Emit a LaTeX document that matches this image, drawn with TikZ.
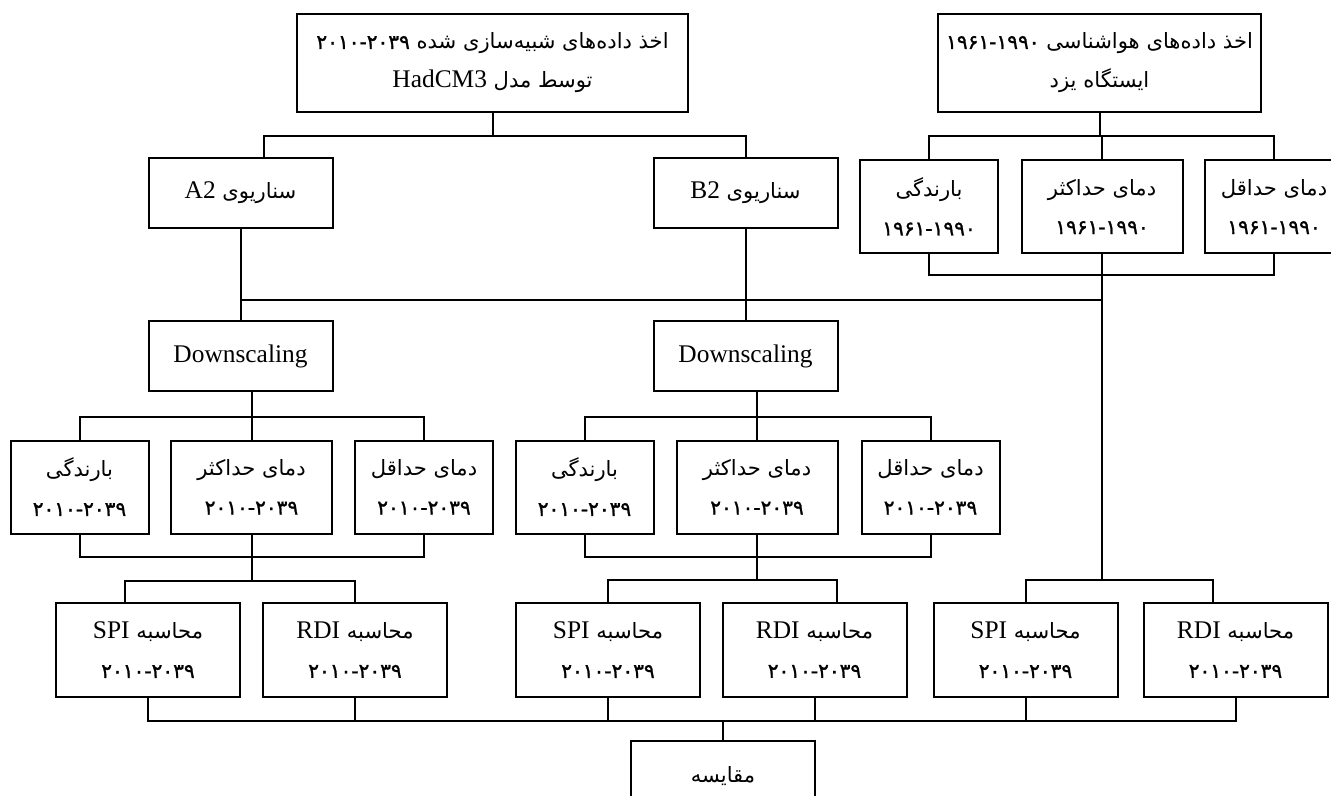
\documentclass[tikz,border=0pt]{standalone}
\usepackage{fontspec}
\setmainfont{Liberation Serif}
\newfontfamily\farsi[Script=Arabic,Scale=0.83]{DejaVu Sans}
\newfontfamily\farsiyr[Script=Arabic,Scale=0.79,FakeBold=1.3]{DejaVu Sans}
\TeXXeTstate=1
\newcommand{\fa}[1]{{\farsi\beginR #1\endR}}
\newcommand{\yrs}[1]{{\farsiyr #1}}
\newcommand{\ltn}[1]{{\rmfamily #1}}
\usetikzlibrary{calc}

\begin{document}
\begin{tikzpicture}[x=0.5pt,y=-0.5pt,line width=1pt,
  box/.style={draw,align=center,inner sep=0pt,font=\fontsize{12.7}{19.5}\selectfont},
  onebox/.style={box,minimum width=92pt,minimum height=35pt},
  twobox/.style={box,minimum width=92pt,minimum height=47pt},
  smallbox/.style={box,minimum width=69pt,minimum height=46.5pt},
  midbox/.style={box,minimum width=80.5pt,minimum height=46.5pt}]
\useasboundingbox (0,0) rectangle (1331,796);
% sources
\node[box,minimum width=195.5pt,minimum height=49pt] (sim) at (492.5,63)
  {\fa{اخذ داده‌های شبیه‌سازی شده \yrs{۲۰۱۰-۲۰۳۹}}\\ \fa{توسط مدل \ltn{HadCM3}}};
\node[box,minimum width=161.5pt,minimum height=49pt] (obs) at (1099.5,63)
  {\fa{اخذ داده‌های هواشناسی \yrs{۱۹۶۱-۱۹۹۰}}\\ \fa{ایستگاه یزد}};
% scenarios and station data
\node[onebox] (A2) at (240.5,193) {\fa{سناریوی \ltn{A2}}};
\node[onebox] (B2) at (745.5,193) {\fa{سناریوی \ltn{B2}}};
\node[smallbox] (st1) at (929,206.5) {\fa{بارندگی}\\ \yrs{۱۹۶۱-۱۹۹۰}};
\node[midbox] (st2) at (1102,206.5) {\fa{دمای حداکثر}\\ \yrs{۱۹۶۱-۱۹۹۰}};
\node[smallbox] (st3) at (1274,206.5) {\fa{دمای حداقل}\\ \yrs{۱۹۶۱-۱۹۹۰}};
\node[onebox] (dsA) at (240.5,356) {Downscaling};
\node[onebox] (dsB) at (745.5,356) {Downscaling};
% downscaled variables
\node[smallbox] (gA1) at (79.5,487) {\fa{بارندگی}\\ \yrs{۲۰۱۰-۲۰۳۹}};
\node[midbox] (gA2) at (251.5,487) {\fa{دمای حداکثر}\\ \yrs{۲۰۱۰-۲۰۳۹}};
\node[smallbox] (gA3) at (424,487) {\fa{دمای حداقل}\\ \yrs{۲۰۱۰-۲۰۳۹}};
\node[smallbox] (gB1) at (584.5,487) {\fa{بارندگی}\\ \yrs{۲۰۱۰-۲۰۳۹}};
\node[midbox] (gB2) at (757,487) {\fa{دمای حداکثر}\\ \yrs{۲۰۱۰-۲۰۳۹}};
\node[smallbox] (gB3) at (930.5,487) {\fa{دمای حداقل}\\ \yrs{۲۰۱۰-۲۰۳۹}};
% indices
\node[twobox] (spiA) at (148,650) {\fa{محاسبه \ltn{SPI}}\\ \yrs{۲۰۱۰-۲۰۳۹}};
\node[twobox] (rdiA) at (355,650) {\fa{محاسبه \ltn{RDI}}\\ \yrs{۲۰۱۰-۲۰۳۹}};
\node[twobox] (spiB) at (608,650) {\fa{محاسبه \ltn{SPI}}\\ \yrs{۲۰۱۰-۲۰۳۹}};
\node[twobox] (rdiB) at (814.5,650) {\fa{محاسبه \ltn{RDI}}\\ \yrs{۲۰۱۰-۲۰۳۹}};
\node[twobox] (spiS) at (1025.5,650) {\fa{محاسبه \ltn{SPI}}\\ \yrs{۲۰۱۰-۲۰۳۹}};
\node[twobox] (rdiS) at (1235.5,650) {\fa{محاسبه \ltn{RDI}}\\ \yrs{۲۰۱۰-۲۰۳۹}};
\node[onebox] (cmp) at (723,776) {\fa{مقایسه}};
% connectors
\draw (sim.south) -- (sim.south |- 0,136);
\draw ($(A2.north)+(23,0)$) |- (B2.north |- 0,136) -- (B2.north);
\draw (obs.south) -- (obs.south |- 0,136);
\draw (st1.north) |- (st3.north |- 0,136) -- (st3.north);
\draw (st2.north) -- (st2.north |- 0,136);
\draw (st1.south) |- (st3.south |- 0,275) -- (st3.south);
\draw (st2.south) -- (st2.south |- 0,581);
\draw (A2.south) -- (dsA.north);
\draw (B2.south) -- (dsB.north);
\draw (dsA.north |- 0,300) -- (st2.south |- 0,300);
\draw (gA2.north) -- (gA2.north |- dsA.south);
\draw (gB2.north) -- (gB2.north |- dsB.south);
\draw (gA1.north) |- (gA3.north |- 0,417) -- (gA3.north);
\draw (gB1.north) |- (gB3.north |- 0,417) -- (gB3.north);
\draw (gA1.south) |- (gA3.south |- 0,557) -- (gA3.south);
\draw (gB1.south) |- (gB3.south |- 0,557) -- (gB3.south);
\draw (gA2.south) -- (gA2.south |- 0,581);
\draw (gB2.south) -- (gB2.south |- 0,581);
\draw ($(spiA.north)+(-23,0)$) |- (rdiA.north |- 0,581) -- (rdiA.north);
\draw (spiB.north) |- ($(rdiB.north)+(22,-22)$) -- ($(rdiB.north)+(22,0)$);
\draw (spiS.north) |- ($(rdiS.north)+(-23,-22)$) -- ($(rdiS.north)+(-23,0)$);
\draw (spiA.south) |- (rdiS.south |- 0,721) -- (rdiS.south);
\foreach \n in {rdiA,spiB,rdiB,spiS}
  \draw (\n.south) -- (\n.south |- 0,721);
\draw (cmp.north) -- (cmp.north |- 0,721);
\end{tikzpicture}
\end{document}
